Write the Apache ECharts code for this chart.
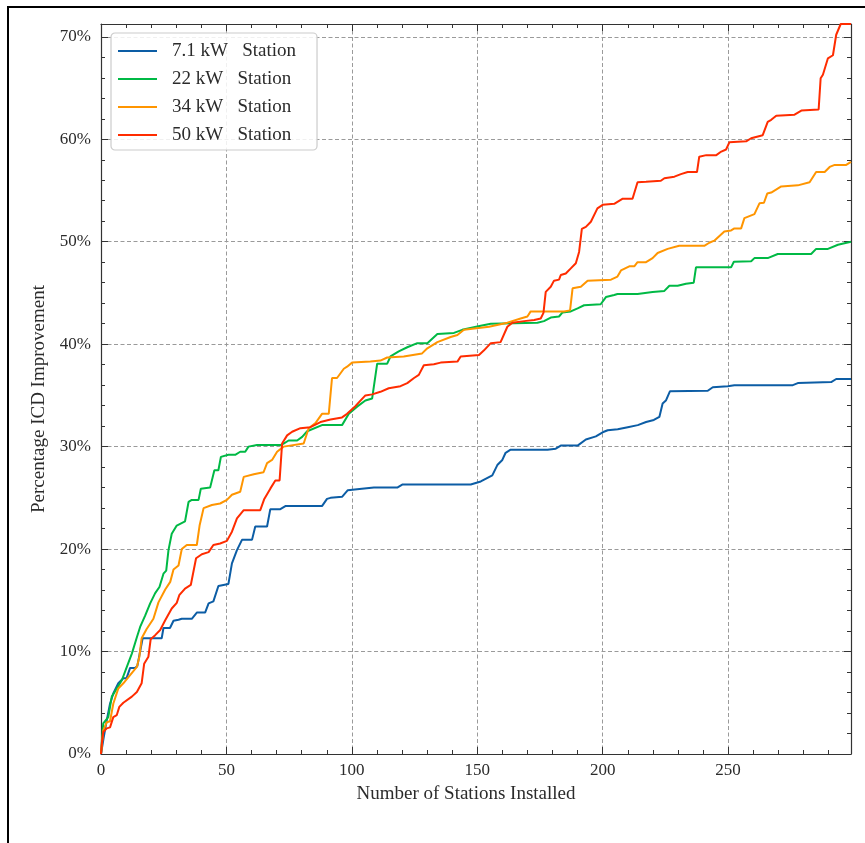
<!DOCTYPE html>
<html>
<head>
<meta charset="utf-8">
<script src="https://cdn.jsdelivr.net/npm/echarts@6/dist/echarts.min.js"></script>
<style>
html,body{margin:0;padding:0;background:#fff;}
#chart{width:865px;height:843px;}
</style>
</head>
<body>
<div id="chart"></div>
<script>
var seriesNames = ['7.1 kW   Station', '22 kW   Station', '34 kW   Station', '50 kW   Station'];
var seriesColors = ['#0C5DA5', '#00B945', '#FF9500', '#FF2C00'];

var blue71 = [[0,0],[1,1.5],[2.3,3.3],[3.6,4.9],[4.9,5.9],[6.9,6.9],[8.9,7.4],[10.2,7.4],[11.6,8.4],[13.6,8.4],[14.5,8.6],[16.6,11.3],[24.2,11.3],[24.9,12.3],[27.5,12.3],[28.9,13.0],[30.9,13.1],[32.2,13.2],[36.2,13.2],[38.2,13.8],[41.5,13.8],[42.9,14.7],[44.8,14.9],[46.8,16.4],[50.8,16.6],[52.2,18.6],[54.2,19.9],[56.2,20.9],[60.2,20.9],[61.5,22.2],[66.2,22.2],[67.5,23.9],[71.5,23.9],[72.2,24.0],[73.5,24.2],[88.1,24.2],[90.1,24.9],[91.5,25.0],[96.1,25.1],[98.4,25.75],[102.1,25.85],[108.8,26.0],[118.1,26.0],[120.1,26.3],[147.4,26.3],[151.4,26.6],[156,27.2],[158,28.2],[160,28.7],[161.3,29.4],[163.3,29.7],[178,29.7],[181.3,29.8],[183.3,30.1],[190,30.1],[193.3,30.7],[197.3,31.0],[200,31.4],[202,31.6],[206,31.7],[210,31.9],[214,32.1],[217.3,32.4],[220.4,32.6],[222.6,32.9],[223.9,34.2],[225.2,34.5],[226.8,35.4],[241.9,35.45],[243.9,35.8],[249.9,35.9],[252.5,36.0],[275.8,36.0],[277.8,36.2],[284.5,36.25],[291.1,36.3],[293.1,36.6],[299,36.6]];

var green22 = [[0,0],[0.4,1.5],[0.9,3.0],[2.9,3.6],[4.3,5.6],[6.3,6.4],[8.3,7.2],[10.3,8.5],[12.3,9.8],[14.3,11.4],[15.6,12.4],[17.6,13.5],[19.6,14.7],[21.6,15.7],[23.3,16.3],[24.9,17.6],[26,17.9],[26.9,19.9],[28.2,21.5],[30.2,22.3],[33.5,22.7],[34.9,24.6],[36.2,24.8],[38.9,24.8],[39.8,25.9],[43.5,26.0],[45.2,27.7],[46.8,27.7],[47.8,29.0],[50.8,29.2],[53.5,29.2],[55.5,29.5],[57.5,29.5],[58.8,30.0],[62.2,30.15],[71.5,30.15],[72.8,30.3],[74.8,30.6],[78.2,30.6],[80.2,30.95],[82.2,31.5],[88.1,32.1],[96.1,32.1],[98.8,33.2],[102.1,33.9],[105.4,34.5],[108.1,34.7],[110.1,38.1],[114.1,38.1],[115.4,38.8],[118.7,39.3],[122.1,39.7],[126.1,40.1],[130.1,40.1],[134.1,41.0],[140.7,41.1],[144,41.4],[151.4,41.8],[155.4,42.0],[174,42.1],[176.6,42.25],[179.3,42.6],[182.6,42.7],[184,43.1],[187.3,43.2],[190,43.5],[192.6,43.8],[199.2,43.9],[201.3,44.6],[204.6,44.8],[205.9,44.9],[213.9,44.9],[219.9,45.1],[224.6,45.2],[226.6,45.7],[229.9,45.7],[233.2,45.9],[236.3,46.0],[237.2,47.5],[251.2,47.5],[252.3,48.05],[259.2,48.1],[260.5,48.4],[265.8,48.4],[269.8,48.8],[283.1,48.8],[285.1,49.3],[289.8,49.3],[293.8,49.7],[299,50.0]];

var orange34 = [[0,0],[0.9,2.3],[2.3,3.1],[3.6,3.2],[4.9,4.9],[6.9,6.4],[8.9,6.9],[11.6,7.7],[14.3,8.5],[15.3,9.5],[16.2,11.3],[18.2,12.2],[20.9,13.2],[22.9,14.8],[25.6,16.05],[27.6,16.8],[28.9,18.0],[30.9,18.4],[32.2,20.0],[34.2,20.4],[38.2,20.4],[39.3,22.3],[40.9,24.0],[44.2,24.3],[47.5,24.45],[50.2,24.8],[52.2,25.3],[55.5,25.6],[56.9,27.05],[60.9,27.3],[64.8,27.5],[66.2,28.4],[68.2,28.7],[70.2,29.5],[72.8,30.0],[80.8,30.3],[82.8,31.8],[85.5,32.3],[88.1,33.2],[90.8,33.2],[92.1,36.7],[94.1,36.7],[96.8,37.6],[98.1,37.8],[100.1,38.2],[107.4,38.3],[111.4,38.4],[114.1,38.7],[120.7,38.8],[128,39.1],[130.1,39.6],[134.1,40.2],[139.4,40.7],[142.1,40.9],[144.7,41.4],[151.4,41.6],[154.7,41.7],[162,42.1],[167.3,42.5],[170,42.7],[171.3,43.2],[184.6,43.2],[187,43.3],[188,45.45],[191.3,45.6],[194,46.2],[203.3,46.3],[205.9,46.6],[207.3,47.2],[210.6,47.6],[212.6,47.6],[213.9,48.0],[217.3,48.0],[219.9,48.4],[221.9,48.9],[225.9,49.3],[230.5,49.6],[240.5,49.6],[242.5,49.9],[244.5,50.1],[248.5,51.0],[251.2,51.1],[252.5,51.3],[255.2,51.3],[256.5,52.3],[260.5,52.7],[262.5,53.75],[264.3,53.8],[265.6,54.7],[267.2,54.8],[271.2,55.4],[277.8,55.5],[282.5,55.8],[285.1,56.8],[288.5,56.8],[290.5,57.3],[292.5,57.5],[297.1,57.5],[299,57.8]];

var red50 = [[0,0],[0.4,1.2],[0.9,2.15],[2.3,2.5],[3.6,2.6],[4.9,3.6],[6.3,3.8],[7.3,4.6],[8.9,5.0],[12.3,5.6],[14.3,6.05],[16.2,6.9],[17.2,8.8],[18.9,9.5],[19.8,11.2],[21.6,11.6],[23.6,12.1],[25.6,13.05],[28.2,14.2],[30.2,14.75],[31.2,15.5],[33.5,16.15],[35.8,16.5],[37.9,19.1],[40.2,19.5],[42.9,19.7],[44.8,20.4],[47.5,20.55],[50.2,20.8],[52.2,21.7],[54.2,23.0],[56.9,23.8],[63.5,23.8],[65.1,24.9],[67.5,25.9],[69.5,26.7],[71.2,26.7],[72.2,30.3],[74.2,31.1],[76.2,31.45],[79.5,31.8],[83.5,31.9],[87.5,32.4],[91.5,32.65],[96.1,32.85],[98.1,33.2],[101.4,33.95],[105.4,35.0],[108.1,35.1],[111.4,35.35],[114.7,35.7],[119.4,35.9],[122.1,36.2],[124.8,36.7],[126.7,37.0],[128.7,37.95],[132.7,38.05],[135.4,38.2],[142.1,38.3],[143.4,38.8],[150.7,38.95],[152.7,39.4],[155.4,40.1],[159.3,40.2],[162,41.7],[164,42.1],[168.7,42.25],[172.7,42.35],[175.3,42.5],[176.4,43.05],[177.3,45.1],[179.3,45.6],[180.6,46.2],[182.6,46.3],[183.3,46.75],[185.3,46.9],[187.3,47.4],[189.3,47.9],[190.6,49.0],[191.7,51.25],[193.3,51.45],[195.3,51.95],[197.9,53.25],[200,53.6],[204.6,53.7],[208,54.2],[211.9,54.2],[213.9,55.8],[217.3,55.85],[223.2,55.95],[224.6,56.2],[228.6,56.35],[231.2,56.6],[233.9,56.8],[237.6,56.8],[238.5,58.3],[241.3,58.45],[245.3,58.45],[247.3,58.8],[249.2,59.0],[250.5,59.7],[257.2,59.8],[259.2,60.1],[263.8,60.4],[265.8,61.7],[267.2,61.9],[269.2,62.3],[276.5,62.4],[279.2,62.8],[286.1,62.9],[286.9,65.95],[287.8,66.3],[289.8,67.9],[291.8,68.2],[293.1,70.2],[293.8,70.3],[294.9,71.25],[299,71.25]];

var seriesData = [blue71, green22, orange34, red50];

var xMin = 0, xMax = 299, xInterval = 50;
var yMin = 0, yMax = 71.25, yInterval = 10;

var FONT = 'Liberation Serif';
var TXT = '#2b2b2b';
var AX = '#333';

var chart = echarts.init(document.getElementById('chart'), null, {renderer: 'canvas'});

function baseAxis(extra) {
  var a = {
    type: 'value',
    axisLine: {show: true, onZero: false, lineStyle: {color: AX, width: 1.2}},
    axisTick: {show: true, inside: true, length: 7, lineStyle: {color: AX, width: 1}},
    minorTick: {show: true, splitNumber: 5, length: 4, lineStyle: {color: AX, width: 1}},
    splitLine: {show: false},
    minorSplitLine: {show: false}
  };
  for (var k in extra) a[k] = extra[k];
  return a;
}

var option = {
  animation: false,
  backgroundColor: '#fff',
  grid: {left: 101, top: 24, width: 750, height: 730, containLabel: false},
  graphic: [{
    type: 'rect', silent: true, z: -10,
    shape: {x: 8, y: 7, width: 1000, height: 1000},
    style: {fill: 'none', stroke: '#000', lineWidth: 2}
  }],
  legend: {
    orient: 'vertical',
    left: 111, top: 33,
    padding: [8, 21, 5, 7],
    itemWidth: 39, itemHeight: 2,
    itemGap: 8,
    icon: 'rect',
    backgroundColor: 'rgba(255,255,255,0.85)',
    borderColor: '#cccccc', borderWidth: 1.2, borderRadius: 4,
    textStyle: {fontFamily: FONT, fontSize: 19, color: TXT, lineHeight: 20, padding: [0, 0, 0, 10]},
    data: seriesNames
  },
  xAxis: [
    baseAxis({
      min: xMin, max: xMax, interval: xInterval, position: 'bottom',
      name: 'Number of Stations Installed', nameLocation: 'middle', nameGap: 31,
      nameTextStyle: {fontFamily: FONT, fontSize: 19, color: TXT, padding: [0, 20, 0, 0]},
      axisLabel: {show: true, margin: 8, fontFamily: FONT, fontSize: 17, color: TXT, showMaxLabel: false},
      splitLine: {show: true, lineStyle: {color: '#9a9a9a', width: 1, type: [4, 2.5]}}
    }),
    baseAxis({
      min: xMin, max: xMax, interval: xInterval, position: 'top',
      axisLabel: {show: false}
    })
  ],
  yAxis: [
    baseAxis({
      min: yMin, max: yMax, interval: yInterval, position: 'left',
      name: 'Percentage ICD Improvement', nameLocation: 'middle', nameGap: 43,
      nameTextStyle: {fontFamily: FONT, fontSize: 19, color: TXT, padding: [0, 20, 0, 0]},
      axisLabel: {show: true, margin: 10, fontFamily: FONT, fontSize: 17, color: TXT,
        formatter: '{value}%', showMaxLabel: false},
      splitLine: {show: true, lineStyle: {color: '#9a9a9a', width: 1, type: [4, 2.5]}}
    }),
    baseAxis({
      min: yMin, max: yMax, interval: yInterval, position: 'right',
      axisLabel: {show: false}
    })
  ],
  series: seriesData.map(function (d, i) {
    return {
      name: seriesNames[i],
      type: 'line',
      xAxisIndex: 0, yAxisIndex: 0,
      data: d,
      showSymbol: false,
      symbol: 'none',
      lineStyle: {color: seriesColors[i], width: 2},
      itemStyle: {color: seriesColors[i]},
      z: 3 + i
    };
  })
};
chart.setOption(option);
</script>
</body>
</html>
